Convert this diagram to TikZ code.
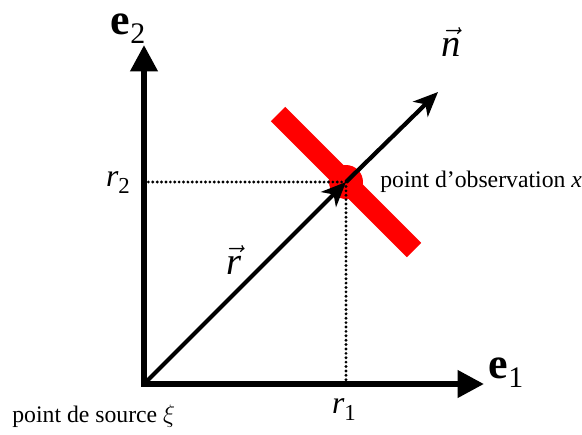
\documentclass[tikz,border=0pt]{standalone}
\usepackage{fontspec}
\setmainfont{Liberation Serif}
\usepackage{amsmath}
\usepackage{tikz}
\usetikzlibrary{positioning}
\usetikzlibrary{arrows.meta}

\tikzset{
    axis/.style={line width=3.4pt, line cap=rect, -{Triangle[length=15pt,width=15pt]}},
    vec/.style={line width=2.4pt, -{Stealth[length=14pt,width=12pt,inset=4pt]}},
    guide/.style={line width=1.8pt, line cap=round, dash pattern=on 0pt off 2.5pt},
    wall/.style={red, line width=11.5pt},
    basis/.style={inner sep=0pt, font=\fontsize{25}{27}\selectfont},
    comp/.style={inner sep=0pt, font=\fontsize{18}{20}\selectfont},
    arrowlbl/.style={inner sep=0pt, font=\fontsize{22}{24}\selectfont},
}

\begin{document}
\begin{tikzpicture}[x=0.02cm, y=-0.02cm]
    \useasboundingbox (0,0) rectangle (582,434);

    \coordinate (O) at (144,384);
    \coordinate (e1tip) at (484,384);
    \coordinate (e2tip) at (144,45);
    \coordinate (P) at (346,182);
    \coordinate (ntip) at (438,92);
    \coordinate (r1) at (346,384);
    \coordinate (r2) at (144,182);
    \coordinate (w1) at (278,114);
    \coordinate (w2) at (414,250);

    % obstacle at the observation point
    \draw[wall] (w1) -- (w2);
    \fill[red] (P) circle (0.34cm);

    \draw[guide] (r2) -- (P) -- (r1);

    \draw[axis] (O) -- (e2tip);
    \draw[axis] (O) -- (e1tip);
    \draw[vec] (O) -- (P);
    \draw[vec] (P) -- (ntip);

    \node[basis] (e2lbl) at (128,29) {\textbf{e}\raisebox{-5pt}{\fontsize{17}{17}\selectfont 2}};
    \node[basis] (e1lbl) at (506,373) {\textbf{e}\raisebox{-5pt}{\fontsize{17}{17}\selectfont 1}};
    \node[comp] (r2lbl) at (118,183) {\textit{r}\raisebox{-4pt}{\fontsize{13}{13}\selectfont 2}};
    \node[comp] (r1lbl) at (344,410) {\textit{r}\raisebox{-4pt}{\fontsize{13}{13}\selectfont 1}};
    \node[arrowlbl] (rlbl) at (234,260) {$\vec{\textit{r}}$};
    \node[arrowlbl] (nlbl) at (451,42) {$\vec{\textit{n}}$};

    \node[anchor=west, inner sep=0pt, font=\fontsize{13.5}{16}\selectfont, right=0.68cm of P] (obs) {point d’observation \textit{x}};
    \node[anchor=west, inner sep=0pt, font=\fontsize{13.5}{16}\selectfont] (src) at (12,416) {point de source $\xi$};
\end{tikzpicture}
\end{document}
